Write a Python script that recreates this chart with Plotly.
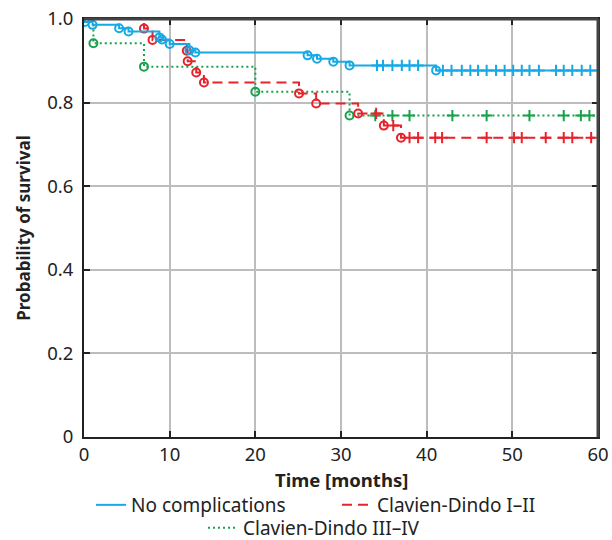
import plotly.graph_objects as go

# ---- data ----
blue_times = [0.1, 1.0, 4.1, 5.2, 8.8, 9.1, 10.0, 12.3, 13.0, 26.1, 27.2, 29.1, 31.0, 41.1]
blue_surv = [0.993, 0.986, 0.978, 0.970, 0.956, 0.951, 0.940, 0.925, 0.920, 0.913, 0.905, 0.898, 0.889, 0.877]
blue_cens_t = [34.2, 34.9, 36.0, 37.1, 38.0, 39.0, 41.9, 42.9, 44.1, 45.1, 46.0, 47.0, 48.1, 49.1,
               50.1, 51.1, 52.0, 53.1, 55.1, 56.0, 57.0, 58.1, 59.1]
blue_cens_s = [0.889] * 6 + [0.877] * 17
blue_end = 60.0

red_times = [7.0, 8.0, 12.0, 12.1, 13.1, 14.0, 25.1, 27.1, 32.0, 35.0, 37.0]
red_surv = [0.977, 0.950, 0.924, 0.899, 0.872, 0.848, 0.822, 0.798, 0.774, 0.745, 0.716]
red_cens_t = [34.1, 36.1, 38.0, 39.0, 41.0, 41.8, 47.0, 50.2, 51.1, 53.9, 56.0, 57.0, 59.2]
red_cens_s = [0.774, 0.745] + [0.716] * 11
red_end = 59.6

green_times = [1.1, 7.0, 20.0, 31.0]
green_surv = [0.942, 0.886, 0.826, 0.769]
green_cens_t = [34.0, 36.0, 38.0, 43.0, 47.0, 52.0, 56.0, 58.0, 59.0]
green_cens_s = [0.769] * 9
green_end = 60.0

series_names = ["No complications", "Clavien-Dindo I\u2013II", "Clavien-Dindo III\u2013IV"]
x_ticks = [0, 10, 20, 30, 40, 50, 60]
y_ticks = [0, 0.2, 0.4, 0.6, 0.8, 1.0]
y_ticktext = ["0", "0.2", "0.4", "0.6", "0.8", "1.0"]
x_title = "Time [months]"
y_title = "Probability of survival"

BLUE = "#16A9E5"
RED = "#E8222B"
GREEN = "#17A24A"

fig = go.Figure()

def add_series(name, times, surv, ct, cs, end, color, dash, legend):
    xs = [0] + times + [end]
    ys = [1.0] + surv + [surv[-1]]
    fig.add_trace(go.Scatter(x=xs, y=ys, mode="lines", line_shape="hv",
                             line=dict(color=color, width=2, dash=dash),
                             name=name, legend=legend, showlegend=True))
    fig.add_trace(go.Scatter(x=times, y=surv, mode="markers",
                             marker=dict(symbol="circle-open", size=8, color=color,
                                         line=dict(width=2, color=color)),
                             showlegend=False, hoverinfo="skip"))
    fig.add_trace(go.Scatter(x=ct, y=cs, mode="markers",
                             marker=dict(symbol="cross-thin", size=8, color=color,
                                         line=dict(width=2, color=color)),
                             showlegend=False, hoverinfo="skip"))

add_series(series_names[2], green_times, green_surv, green_cens_t, green_cens_s, green_end,
           GREEN, "2px,3px", "legend2")
add_series(series_names[1], red_times, red_surv, red_cens_t, red_cens_s, red_end,
           RED, "10px,6px", "legend")
add_series(series_names[0], blue_times, blue_surv, blue_cens_t, blue_cens_s, blue_end,
           BLUE, "solid", "legend")

W, H = 612, 540
FONT = "Noto Sans"
fig.update_layout(
    width=W, height=H,
    margin=dict(l=84, r=14, t=19, b=103, autoexpand=False),
    plot_bgcolor="white", paper_bgcolor="white",
    font=dict(family=FONT, size=18, color="#222"),
    legend=dict(orientation="h", xref="container", yref="container",
                x=91 / W, xanchor="left", y=1 - 505 / H, yanchor="middle",
                traceorder="reversed", font=dict(size=19),
                entrywidth=201, entrywidthmode="pixels",
                bgcolor="rgba(0,0,0,0)"),
    legend2=dict(orientation="h", xref="container", yref="container",
                 x=203 / W, xanchor="left", y=1 - 528 / H, yanchor="middle",
                 font=dict(size=19), bgcolor="rgba(0,0,0,0)"),
    xaxis=dict(range=[0, 60], tickvals=x_ticks, ticks="inside", ticklen=6, tickwidth=2,
               tickcolor="#222", showline=True, linecolor="#222", linewidth=2, mirror="allticks",
               showgrid=True, gridcolor="#BDBDBD", gridwidth=1.5, zeroline=False,
               automargin=False, ticklabeloverflow="allow",
               tickfont=dict(size=18.5)),
    yaxis=dict(range=[0, 1.0], tickvals=y_ticks, ticktext=y_ticktext, ticks="inside",
               ticklen=6, tickwidth=2, tickcolor="#222", showline=True, linecolor="#222",
               linewidth=2, mirror="allticks", showgrid=True, gridcolor="#BDBDBD",
               gridwidth=1.5, zeroline=False, automargin=False, ticklabelstandoff=5,
               ticklabeloverflow="allow",
               title=dict(text="<b>" + y_title + "</b>", font=dict(size=17), standoff=12),
               tickfont=dict(size=18.5)),
    annotations=[
        dict(text="<b>" + x_title + "</b>", xref="paper", yref="paper",
             x=0.5, y=(437 - 479) / 418, xanchor="center", yanchor="middle",
             showarrow=False, font=dict(size=18.5)),
    ],
    shapes=[
        dict(type="line", xref="paper", yref="paper", x0=0, x1=1, y0=1, y1=1,
             line=dict(color="#444", width=3), layer="above"),
        dict(type="line", xref="paper", yref="paper", x0=1, x1=1, y0=0, y1=1,
             line=dict(color="#444", width=3), layer="above"),
    ],
)

# remove the browser's default 8px page margin so the 612x540 figure fills the window
fig.write_html("out.html", config={"displayModeBar": False},
               post_script="document.body.style.margin='0';")
